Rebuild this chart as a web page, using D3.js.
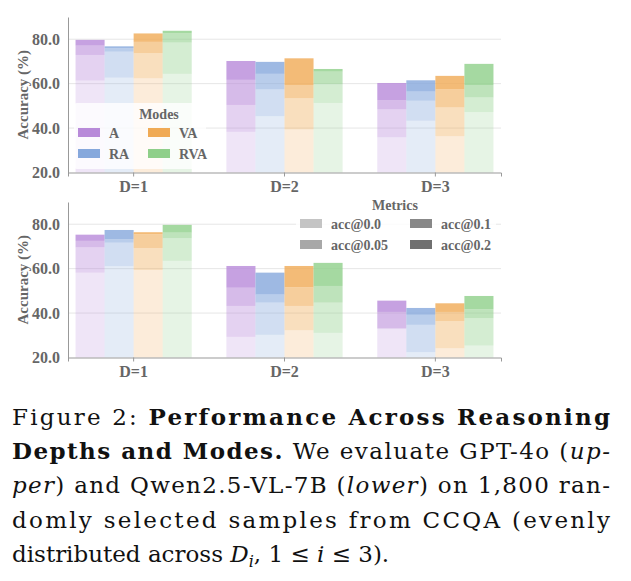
<!DOCTYPE html>
<html><head><meta charset="utf-8">
<script src="https://cdn.jsdelivr.net/npm/d3@7"></script>
<style>body{margin:0;background:#fff}</style>
</head><body>
<svg id="c" width="631" height="581"></svg>
<script>
var groups = ["D=1", "D=2", "D=3"];
var modes = ["A", "RA", "VA", "RVA"];
var metrics = ["acc@0.0", "acc@0.05", "acc@0.1", "acc@0.2"];
var yTicks = [20, 40, 60, 80];
var modeColors = ["#b88ad9", "#86a8dc", "#f0aa55", "#8fcf8a"];
var metricGrays = ["#c4c4c4", "#a8a8a8", "#888888", "#707070"];
var layerAlpha = [0.22, 0.38, 0.58, 0.8];

// [group][mode] = [acc@0.0, acc@0.05, acc@0.1, acc@0.2]
var upper = [
  [[61.4, 72.9, 77.1, 79.7], [62.7, 74.4, 76.0, 76.8], [62.4, 73.7, 78.8, 82.6], [64.4, 78.5, 82.6, 83.8]],
  [[38.3, 50.4, 61.7, 70.2], [45.4, 57.4, 64.4, 69.8], [39.4, 53.4, 59.4, 71.4], [51.3, 59.7, 65.4, 66.6]],
  [[35.9, 48.4, 52.6, 60.3], [43.3, 52.3, 56.4, 61.5], [36.4, 49.3, 57.4, 63.5], [47.2, 53.8, 59.4, 68.9]]
];
var lower = [
  [[58.2, 69.6, 72.5, 75.3], [61.1, 71.7, 73.2, 77.4], [59.4, 69.3, 75.5, 76.4], [63.5, 73.7, 76.2, 79.7]],
  [[29.3, 43.2, 51.4, 61.2], [30.2, 44.7, 48.3, 58.2], [32.3, 43.2, 51.6, 61.2], [31.1, 44.7, 52.2, 62.6]],
  [[32.8, 33.2, 40.5, 45.6], [22.4, 34.7, 39.2, 42.3], [24.2, 36.4, 40.5, 44.4], [25.4, 37.7, 41.7, 47.7]]
];

var svg = d3.select("#c");
var font = "'Liberation Serif', serif";
var ink = "#666";

function panel(data, top, legend) {
  var g = svg.append("g");
  var x = d3.scaleBand().domain(groups).range([68, 501]).paddingInner(0.23).paddingOuter(0.05);
  var xi = d3.scaleBand().domain(modes).range([0, x.bandwidth()]);
  var y = d3.scaleLinear().domain([20, 90]).range([top + 155.5, top]);

  g.selectAll(".grid").data(yTicks.slice(1)).enter().append("line")
    .attr("x1", 68).attr("x2", 501).attr("y1", y).attr("y2", y)
    .attr("stroke", "#e6e6e6").attr("stroke-width", 1);

  data.forEach(function(gr, gi) {
    gr.forEach(function(vals, mi) {
      var x0 = x(groups[gi]) + xi(modes[mi]);
      g.selectAll(null).data(vals).enter().append("rect")
        .attr("x", x0).attr("width", xi.bandwidth())
        .attr("y", function(d) { return y(d); })
        .attr("height", function(d, k) { return (k ? y(vals[k - 1]) : y(20)) - y(d); })
        .attr("fill", modeColors[mi])
        .attr("fill-opacity", function(d, k) { return layerAlpha[k]; });
    });
  });

  var ya = g.append("g").attr("transform", "translate(68,0)")
    .call(d3.axisLeft(y).tickValues(yTicks).tickFormat(d3.format(".1f")).tickSize(0).tickPadding(8));
  var xa = g.append("g").attr("transform", "translate(0," + y(20) + ")")
    .call(d3.axisBottom(x).tickSize(4).tickPadding(4));
  [ya, xa].forEach(function(a) {
    a.selectAll("path, line").attr("stroke", "#999");
    a.selectAll("text").attr("font-family", font).attr("font-weight", "bold")
      .attr("font-size", 16).attr("fill", ink);
  });
  g.append("text").attr("transform", "translate(28," + (y(55)) + ") rotate(-90)")
    .attr("text-anchor", "middle").attr("font-family", font).attr("font-weight", "bold")
    .attr("font-size", 15).attr("fill", ink).text("Accuracy (%)");
  legend(g, y);
}

function drawLegend(g, title, items, colors, box, titleX, cols) {
  g.append("rect").attr("x", box[0]).attr("y", box[1]).attr("width", box[2]).attr("height", box[3])
    .attr("rx", 3).attr("fill", "#fff").attr("fill-opacity", 0.8);
  g.append("text").attr("x", titleX).attr("y", box[1] + 16).attr("text-anchor", "middle")
    .attr("font-family", font).attr("font-weight", "bold").attr("font-size", 14).attr("fill", ink).text(title);
  items.forEach(function(it, i) {
    var c = Math.floor(i / 2), r = i % 2;
    var sx = cols[c], sy = box[1] + 25 + r * 21;
    g.append("rect").attr("x", sx).attr("y", sy).attr("width", 22).attr("height", 9).attr("fill", colors[i]);
    g.append("text").attr("x", sx + 31).attr("y", sy + 10).attr("font-family", font).attr("font-weight", "bold")
      .attr("font-size", 14).attr("fill", ink).text(it);
  });
}

panel(upper, 17, function(g) {
  drawLegend(g, "Modes", ["A", "RA", "VA", "RVA"],
    modeColors, [74, 103, 132, 66], 159, [78, 148]);
});
panel(lower, 202, function(g) {
  drawLegend(g, "Metrics", metrics, metricGrays, [296, 194, 200, 60], 395, [300, 410]);
});

// caption
var lines = [
  [["Figure 2:  ", ""], ["Performance Across Reasoning", "b"]],
  [["Depths and Modes.", "b"], [" We evaluate GPT-4o (", ""], ["up-", "i"]],
  [["per", "i"], [") and Qwen2.5-VL-7B (", ""], ["lower", "i"], [") on 1,800 ran-", ""]],
  [["domly selected samples from CCQA (evenly", ""]],
  [["distributed across ", ""], ["D", "i"], ["i", "sub"], [", 1 \u2264 ", ""], ["i", "i"], [" \u2264 3).", ""]]
];
lines.forEach(function(ln, li) {
  var t = svg.append("text").attr("x", 12).attr("y", 425 + li * 34.2)
    .attr("font-family", "'DejaVu Serif', serif").attr("font-size", 23).attr("fill", "#111");
  ln.forEach(function(s) {
    var ts = t.append("tspan").text(s[0]);
    if (s[1] === "b") ts.attr("font-weight", "bold");
    if (s[1] === "i" || s[1] === "sub") ts.attr("font-style", "italic");
    if (s[1] === "sub") ts.attr("font-size", 16).attr("dy", 5);
    if (li === 4 && s[0].indexOf(", 1") === 0) ts.attr("dy", -5);
  });
  if (li < 4) t.attr("textLength", 598).attr("lengthAdjust", "spacing");
});
</script>
</body></html>
